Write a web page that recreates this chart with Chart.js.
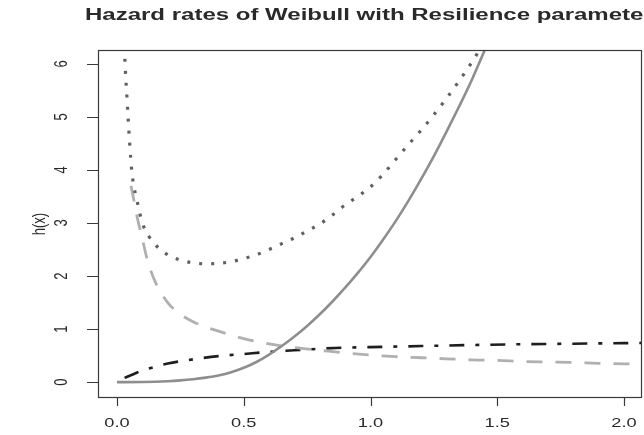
<!DOCTYPE html>
<html>
<head>
<meta charset="utf-8">
<script src="https://cdn.jsdelivr.net/npm/chart.js@4/dist/chart.umd.min.js"></script>
<style>
  html, body { margin: 0; padding: 0; background: #ffffff; }
  canvas { display: block; }
</style>
</head>
<body>
<canvas id="c" width="644" height="435"></canvas>
<script>
// Labels and axis ticks
const chartTitle = 'Hazard rates of Weibull with Resilience parameter';
const yTitle = 'h(x)';
const xTickValues = [0, 0.5, 1, 1.5, 2];
const xTickLabels = ['0.0', '0.5', '1.0', '1.5', '2.0'];
const yTickValues = [0, 1, 2, 3, 4, 5, 6];
const yTickLabels = ['0', '1', '2', '3', '4', '5', '6'];

// Solid grey curve (increasing hazard)
const solidX = [0, 0.1, 0.2, 0.25, 0.3, 0.35, 0.4, 0.45, 0.5, 0.55, 0.6, 0.65, 0.7, 0.75, 0.8, 0.85, 0.9, 0.95, 1.0, 1.05, 1.1, 1.15, 1.2, 1.25, 1.3, 1.35, 1.4, 1.45, 1.5];
const solidY = [0, 0.003, 0.018, 0.033, 0.055, 0.085, 0.125, 0.185, 0.27, 0.38, 0.52, 0.68, 0.86, 1.06, 1.28, 1.52, 1.78, 2.06, 2.36, 2.69, 3.04, 3.42, 3.83, 4.26, 4.72, 5.2, 5.7, 6.25, 6.8];

// Dotted curve (bathtub-shaped hazard)
const dottedX = [0.025, 0.03, 0.04, 0.05, 0.06, 0.08, 0.1, 0.15, 0.2, 0.25, 0.3, 0.35, 0.4, 0.45, 0.5, 0.55, 0.6, 0.65, 0.7, 0.75, 0.8, 0.85, 0.9, 0.95, 1.0, 1.05, 1.1, 1.15, 1.2, 1.25, 1.3, 1.35, 1.4, 1.45];
const dottedY = [7.0, 6.2, 5.3, 4.5, 3.9, 3.4, 3.0, 2.6, 2.4, 2.3, 2.25, 2.23, 2.24, 2.27, 2.33, 2.4, 2.5, 2.61, 2.72, 2.85, 2.98, 3.15, 3.34, 3.5, 3.68, 3.92, 4.2, 4.48, 4.75, 5.04, 5.35, 5.68, 6.03, 6.42];

// Dashed light grey curve (decreasing hazard)
const dashedX = [0.055, 0.07, 0.08, 0.1, 0.12, 0.15, 0.2, 0.25, 0.3, 0.35, 0.4, 0.5, 0.6, 0.7, 0.8, 0.9, 1.0, 1.1, 1.2, 1.3, 1.4, 1.5, 1.6, 1.7, 1.8, 1.9, 2.0, 2.08];
const dashedY = [3.7, 3.35, 3.1, 2.7, 2.3, 1.9, 1.5, 1.28, 1.14, 1.04, 0.96, 0.82, 0.72, 0.65, 0.6, 0.55, 0.51, 0.48, 0.46, 0.44, 0.42, 0.41, 0.39, 0.38, 0.37, 0.355, 0.345, 0.34];

// Dash-dot black curve (slowly increasing hazard)
const dashDotX = [0.03, 0.05, 0.1, 0.15, 0.2, 0.3, 0.4, 0.5, 0.6, 0.7, 0.8, 0.9, 1.0, 1.2, 1.4, 1.6, 1.8, 2.0, 2.08];
const dashDotY = [0.08, 0.12, 0.22, 0.29, 0.35, 0.43, 0.49, 0.53, 0.57, 0.6, 0.63, 0.65, 0.66, 0.68, 0.7, 0.715, 0.725, 0.735, 0.74];

const toPoints = (xs, ys) => xs.map((x, i) => ({ x: x, y: ys[i] }));

// Text is drawn widened horizontally
const STRETCH = 1.4;
const TEXT_COLOR = '#2a2a2a';

function stretchedText(ctx, text, x, y, align, rotate, stretch) {
  ctx.save();
  ctx.translate(x, y);
  ctx.scale(stretch || STRETCH, 1);
  if (rotate) ctx.rotate(-Math.PI / 2);
  ctx.textAlign = align;
  ctx.fillText(text, 0, 0);
  ctx.restore();
}

const baseAxesPlugin = {
  id: 'baseAxes',
  afterDraw(chart) {
    const { ctx, chartArea: a, scales } = chart;
    const xs = scales.x, ys = scales.y;
    ctx.save();
    // plot box
    ctx.strokeStyle = '#3a3a3a';
    ctx.lineWidth = 1.2;
    ctx.strokeRect(a.left + 0.5, a.top + 0.5, a.right - a.left - 1, a.bottom - a.top);

    // tick marks
    ctx.beginPath();
    xs.ticks.forEach(t => {
      const px = Math.round(xs.getPixelForValue(t.value)) + 0.5;
      ctx.moveTo(px, a.bottom);
      ctx.lineTo(px, a.bottom + 9);
    });
    ys.ticks.forEach(t => {
      const py = Math.round(ys.getPixelForValue(t.value)) + 0.5;
      ctx.moveTo(a.left - 11, py);
      ctx.lineTo(a.left, py);
    });
    ctx.stroke();

    // tick labels
    ctx.fillStyle = TEXT_COLOR;
    ctx.font = '13px "Liberation Sans", Arial, sans-serif';
    ctx.textBaseline = 'middle';
    xs.ticks.forEach((t, i) => {
      stretchedText(ctx, xTickLabels[i], xs.getPixelForValue(t.value), 423, 'center', false);
    });
    ys.ticks.forEach((t, i) => {
      stretchedText(ctx, yTickLabels[i], 62, ys.getPixelForValue(t.value), 'center', true);
    });

    // axis title
    stretchedText(ctx, yTitle, 40, 224, 'center', true);

    // main title
    ctx.font = 'bold 16px "Liberation Sans", Arial, sans-serif';
    ctx.textBaseline = 'middle';
    stretchedText(ctx, chartTitle, 85, 16, 'left', false, 1.5);
    ctx.restore();
  }
};

const lineDefaults = {
  showLine: true,
  pointRadius: 0,
  pointHoverRadius: 0,
  fill: false,
  cubicInterpolationMode: 'monotone'
};

new Chart(document.getElementById('c'), {
  type: 'scatter',
  data: {
    datasets: [
      Object.assign({}, lineDefaults, {
        label: 'solid',
        data: toPoints(solidX, solidY),
        borderColor: '#8e8e8e',
        borderWidth: 2.6
      }),
      Object.assign({}, lineDefaults, {
        label: 'dotted',
        data: toPoints(dottedX, dottedY),
        borderColor: '#606060',
        borderWidth: 3.2,
        borderDash: [3, 9]
      }),
      Object.assign({}, lineDefaults, {
        label: 'dashed',
        data: toPoints(dashedX, dashedY),
        borderColor: '#b0b0b0',
        borderWidth: 2.8,
        borderDash: [16, 13]
      }),
      Object.assign({}, lineDefaults, {
        label: 'dashdot',
        data: toPoints(dashDotX, dashDotY),
        borderColor: '#1e1e1e',
        borderWidth: 2.6,
        borderDash: [15, 11, 4, 11]
      })
    ]
  },
  options: {
    responsive: false,
    animation: false,
    devicePixelRatio: 1,
    layout: { padding: { left: 0, right: 2, top: 50, bottom: 0 } },
    plugins: {
      legend: { display: false },
      tooltip: { enabled: false },
      title: { display: false }
    },
    scales: {
      x: {
        type: 'linear',
        min: -0.075,
        max: 2.071,
        grid: { display: false },
        border: { display: false },
        ticks: { display: false },
        afterBuildTicks: s => { s.ticks = xTickValues.map(v => ({ value: v })); },
        afterFit: s => { s.height = 38; }
      },
      y: {
        type: 'linear',
        min: -0.28,
        max: 6.26,
        grid: { display: false },
        border: { display: false },
        ticks: { display: false },
        afterBuildTicks: s => { s.ticks = yTickValues.map(v => ({ value: v })); },
        afterFit: s => { s.width = 98; }
      }
    }
  },
  plugins: [baseAxesPlugin]
});
</script>
</body>
</html>
